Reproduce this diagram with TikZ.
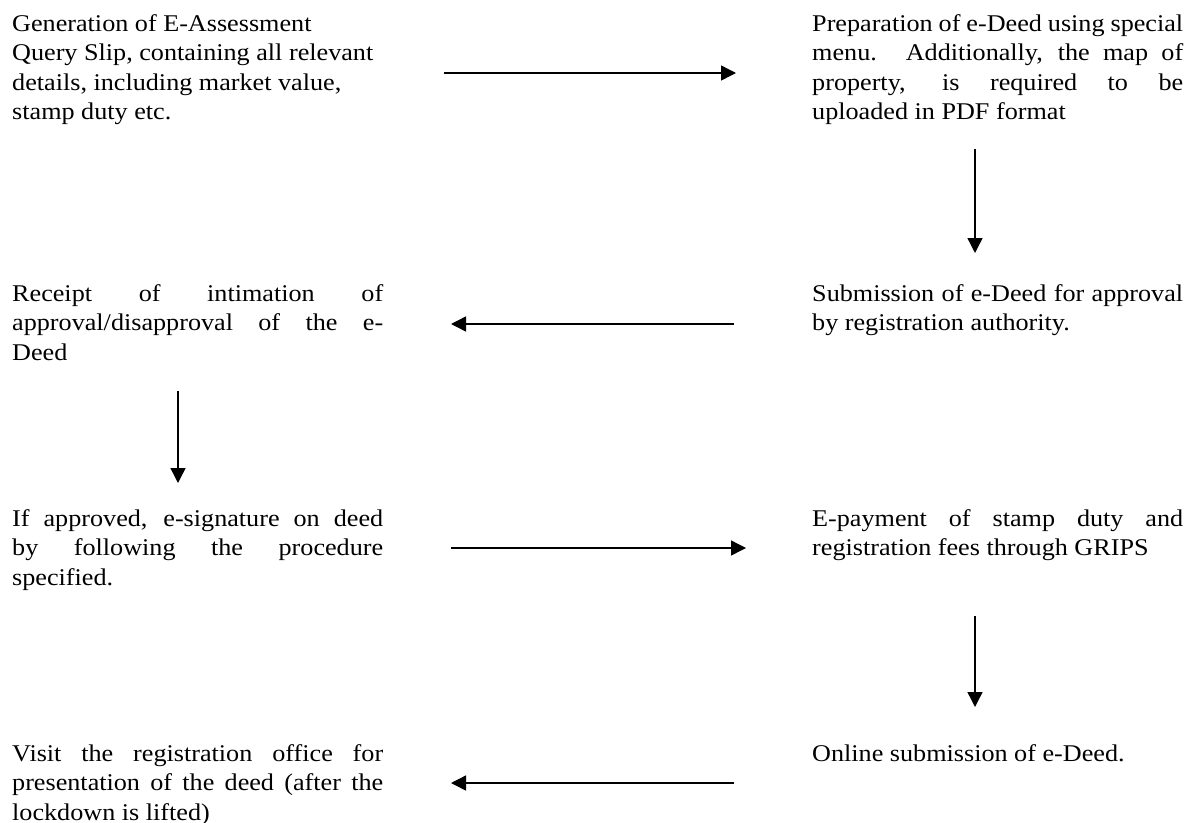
\documentclass[tikz,border=0pt]{standalone}
\usepackage{fontspec}
\setmainfont[FakeStretch=1.09]{Liberation Serif}
\usetikzlibrary{arrows.meta}
\newcommand{\jl}[1]{\makebox[371pt][s]{#1}}
\newcommand{\rl}[1]{\makebox[371pt][l]{#1}}
\begin{document}
\begin{tikzpicture}[x=1pt,y=-1pt,
  txt/.style={anchor=base west, inner sep=0pt, align=left,
    font=\fontsize{24}{29.5}\selectfont},
  flow/.style={-{Triangle[length=15pt,width=15pt]}, line width=1.4pt}]
\useasboundingbox (0,0) rectangle (1194,822);

% anchors are at the baseline of each text's last line
\node[txt] (gen) at (12,119.5) {\rl{Generation of E-Assessment}\\ \rl{Query Slip, containing all relevant}\\ \rl{details, including market value,}\\ \rl{stamp duty etc.}};
\node[txt] (prep) at (812,119.5) {\jl{Preparation of e-Deed using special}\\ \jl{menu. Additionally, the map of}\\ \jl{property, is required to be}\\ \rl{uploaded in PDF format}};
\node[txt] (rec) at (12,360) {\jl{Receipt of intimation of}\\ \jl{approval/disapproval of the e-}\\ \rl{Deed}};
\node[txt] (sub) at (812,330.5) {\jl{Submission of e-Deed for approval}\\ \rl{by registration authority.}};
\node[txt] (ifa) at (12,585) {\jl{If approved, e-signature on deed}\\ \jl{by following the procedure}\\ \rl{specified.}};
\node[txt] (epay) at (812,555.5) {\jl{E-payment of stamp duty and}\\ \rl{registration fees through GRIPS}};
\node[txt] (visit) at (12,820) {\jl{Visit the registration office for}\\ \jl{presentation of the deed (after the}\\ \rl{lockdown is lifted)}};
\node[txt] (online) at (812,761) {\rl{Online submission of e-Deed.}};

\coordinate (a1s) at (444,73);  \coordinate (a1e) at (736,73);
\coordinate (a2s) at (975,149); \coordinate (a2e) at (975,253);
\coordinate (a3s) at (734,324); \coordinate (a3e) at (451,324);
\coordinate (a4s) at (178,391); \coordinate (a4e) at (178,483);
\coordinate (a5s) at (451,548); \coordinate (a5e) at (746,548);
\coordinate (a6s) at (975,616); \coordinate (a6e) at (975,707);
\coordinate (a7s) at (734,783); \coordinate (a7e) at (451,783);

\draw[flow] (a1s) -- (a1e);
\draw[flow] (a2s) -- (a2e);
\draw[flow] (a3s) -- (a3e);
\draw[flow] (a4s) -- (a4e);
\draw[flow] (a5s) -- (a5e);
\draw[flow] (a6s) -- (a6e);
\draw[flow] (a7s) -- (a7e);
\end{tikzpicture}
\end{document}
